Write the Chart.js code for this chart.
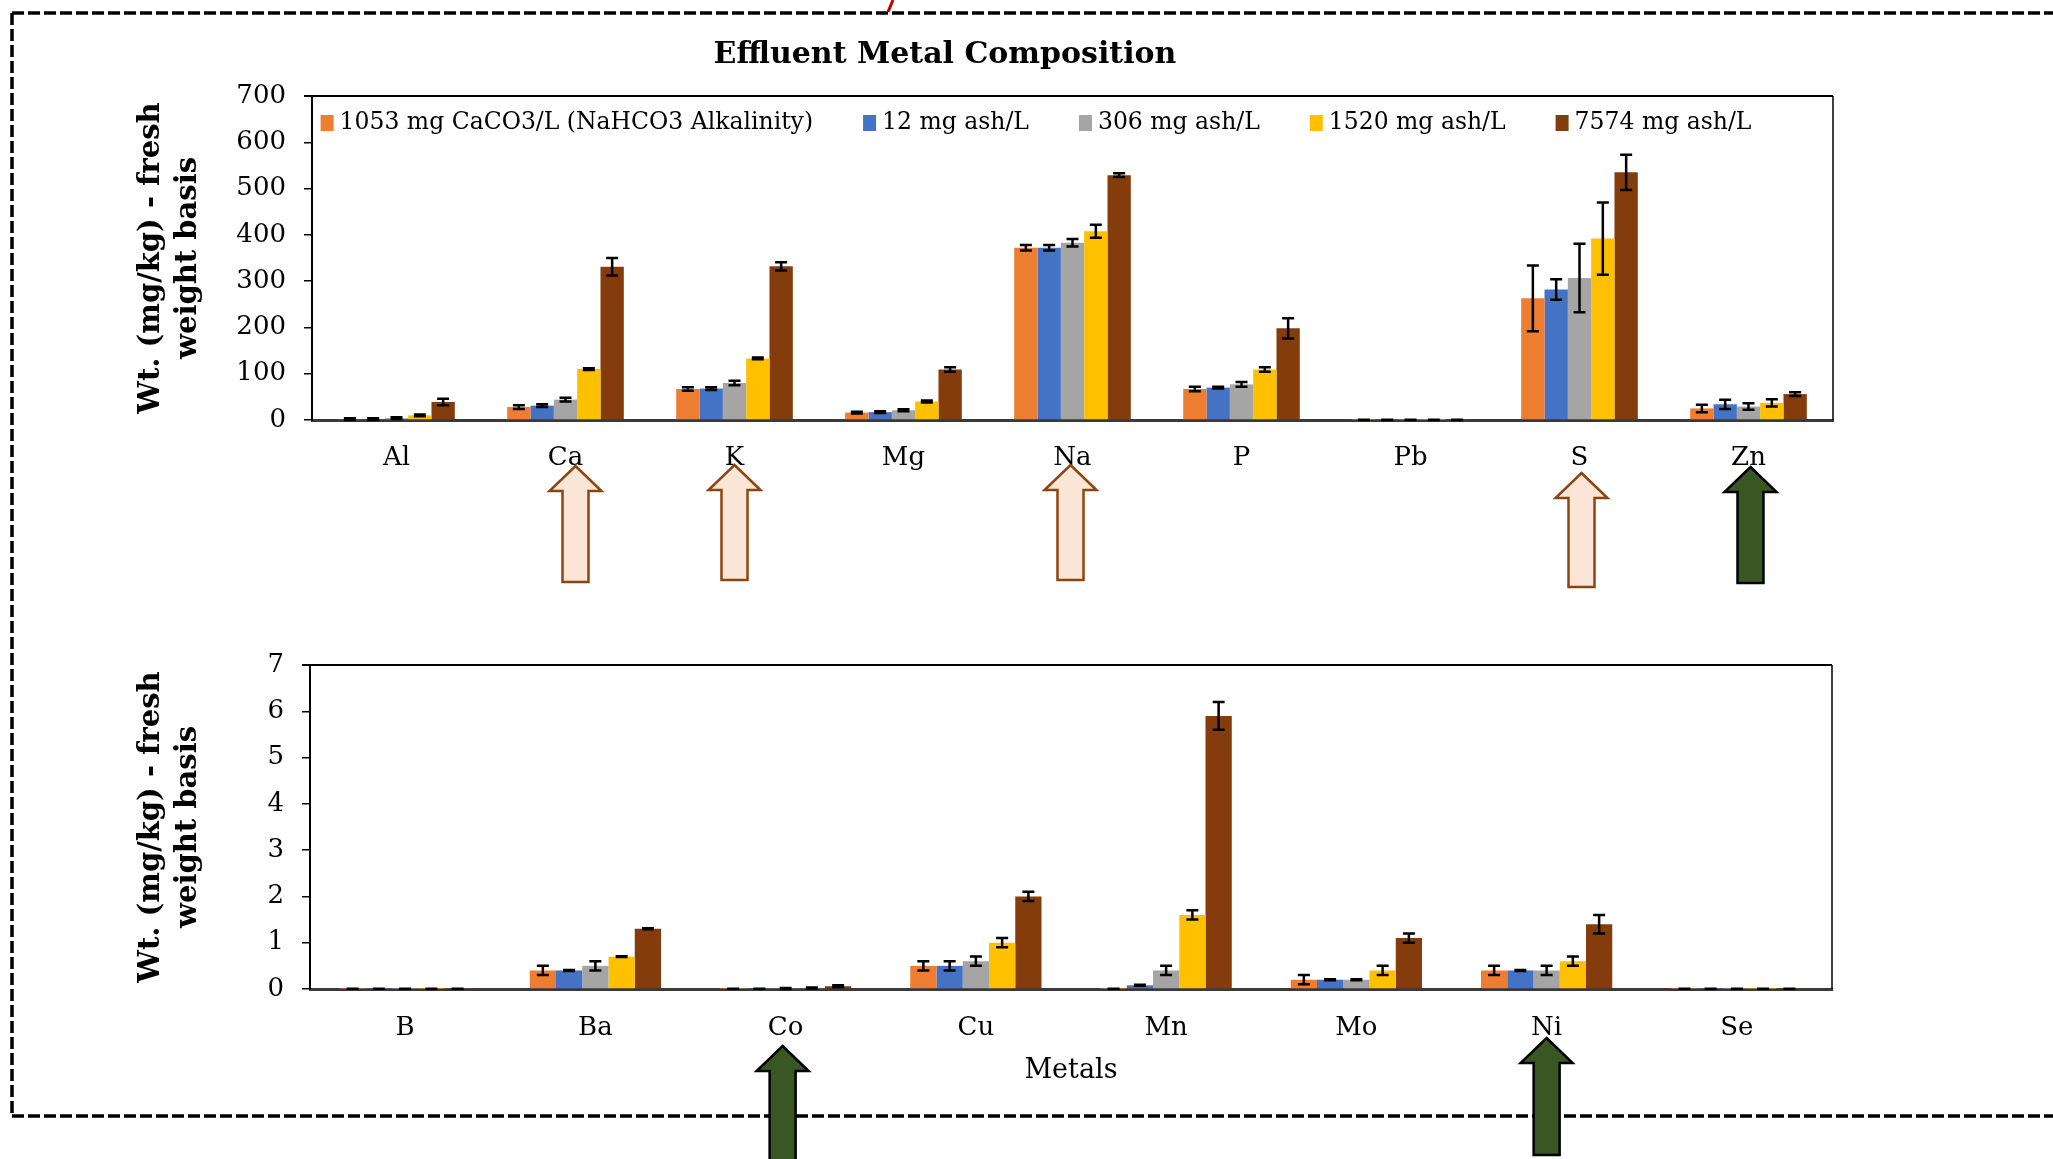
<!DOCTYPE html>
<html>
<head>
<meta charset="utf-8">
<title>Effluent Metal Composition</title>
<script src="https://cdn.jsdelivr.net/npm/chart.js@4.4.1/dist/chart.umd.min.js"></script>
<style>
  body { margin: 0; width: 2053px; height: 1159px; background: #fff; overflow: hidden; position: relative; font-family: "DejaVu Serif", serif; }
  #frame { position: absolute; left: 0; top: 0; z-index: 0; }
  #chartTitle { position: absolute; left: 0; width: 1890px; top: 38px; text-align: center; font: bold 30px "DejaVu Serif", serif; line-height: 30px; color: #000; z-index: 2; }
  .box { position: absolute; left: 0; z-index: 1; }
</style>
</head>
<body>
<svg id="frame" width="2053" height="1159">
  <g stroke="#000" stroke-width="3.5" stroke-dasharray="12 4" fill="none">
    <line x1="12" y1="13" x2="2053" y2="13"></line>
    <line x1="12" y1="13" x2="12" y2="1116"></line>
    <line x1="12" y1="1116" x2="2053" y2="1116"></line>
  </g>
  <line x1="893" y1="0" x2="888" y2="12" stroke="#c00000" stroke-width="3"></line>
</svg>
<div id="chartTitle">Effluent Metal Composition</div>
<div class="box" style="top:0"><canvas id="majorChart" width="1900" height="600"></canvas></div>
<div class="box" style="top:600px"><canvas id="traceChart" width="1900" height="559"></canvas></div>

<script>
// CATEGORIES
const majorMetals = ["Al", "Ca", "K", "Mg", "Na", "P", "Pb", "S", "Zn"];
const traceMetals = ["B", "Ba", "Co", "Cu", "Mn", "Mo", "Ni", "Se"];

// SERIES
const seriesLabels = ["1053 mg CaCO3/L (NaHCO3 Alkalinity)", "12 mg ash/L", "306 mg ash/L", "1520 mg ash/L", "7574 mg ash/L"];
const seriesColors = ["#ED7D31", "#4472C4", "#A5A5A5", "#FFC000", "#843C0C"];

// MAJOR METALS, mg/kg (means)
const majorAlk1053 = [2, 28, 67, 16, 372, 67, 0.5, 263, 25];
const majorAsh12   = [2, 31, 68, 17, 372, 70, 0.5, 282, 34];
const majorAsh306  = [4, 44, 80, 21, 383, 77, 0.5, 307, 29];
const majorAsh1520 = [10, 110, 133, 40, 408, 109, 0.5, 392, 37];
const majorAsh7574 = [39, 331, 332, 109, 529, 198, 0.5, 535, 56];

// MAJOR METALS, error (+/-)
const majorErrAlk1053 = [2, 4, 4, 2, 6, 5, 0.3, 71, 8];
const majorErrAsh12   = [2, 3, 3, 2, 6, 2, 0.3, 22, 10];
const majorErrAsh306  = [2, 4, 5, 2, 8, 5, 0.3, 74, 7];
const majorErrAsh1520 = [2, 2, 2, 2, 14, 5, 0.3, 78, 8];
const majorErrAsh7574 = [7, 19, 9, 5, 4, 22, 0.3, 38, 4];

// TRACE METALS, mg/kg (means)
const traceAlk1053 = [0.005, 0.4, 0.005, 0.5, 0.005, 0.2, 0.4, 0.005];
const traceAsh12   = [0.005, 0.4, 0.005, 0.5, 0.08, 0.2, 0.4, 0.005];
const traceAsh306  = [0.005, 0.5, 0.01, 0.6, 0.4, 0.2, 0.4, 0.005];
const traceAsh1520 = [0.005, 0.7, 0.02, 1.0, 1.6, 0.4, 0.6, 0.005];
const traceAsh7574 = [0.005, 1.3, 0.06, 2.0, 5.9, 1.1, 1.4, 0.005];

// TRACE METALS, error (+/-)
const traceErrAlk1053 = [0, 0.1, 0, 0.1, 0, 0.1, 0.1, 0];
const traceErrAsh12   = [0, 0.01, 0, 0.1, 0.01, 0.01, 0.01, 0];
const traceErrAsh306  = [0, 0.1, 0.01, 0.1, 0.1, 0.01, 0.1, 0];
const traceErrAsh1520 = [0, 0.01, 0.01, 0.1, 0.1, 0.1, 0.1, 0];
const traceErrAsh7574 = [0, 0.01, 0.02, 0.1, 0.3, 0.1, 0.2, 0];

// ARROW ANNOTATIONS (offsets below the plot area)
const majorArrows = [
  { cat: "Ca", dx: 10, tip: 46, end: 162, kind: "light" },
  { cat: "K", dx: 0, tip: 45, end: 160, kind: "light" },
  { cat: "Na", dx: -2, tip: 45, end: 160, kind: "light" },
  { cat: "S", dx: 2, tip: 53, end: 167, kind: "light" },
  { cat: "Zn", dx: 2, tip: 47, end: 163, kind: "dark" }
];
const traceArrows = [
  { cat: "Co", dx: -3, tip: 57, end: 190, kind: "dark" },
  { cat: "Ni", dx: 0, tip: 49, end: 166, kind: "dark" }
];

const serif = '"DejaVu Serif", serif';

// ERROR BARS
const errorBars = {
  id: "errorBars",
  afterDatasetsDraw(chart) {
    const ctx = chart.ctx;
    const y = chart.scales.y;
    ctx.save();
    ctx.strokeStyle = "#000";
    ctx.lineWidth = 2.5;
    chart.data.datasets.forEach((ds, i) => {
      const meta = chart.getDatasetMeta(i);
      meta.data.forEach((bar, j) => {
        const v = ds.data[j];
        const e = ds.errors[j];
        const top = y.getPixelForValue(v + e);
        const bot = y.getPixelForValue(Math.max(v - e, 0));
        ctx.beginPath();
        ctx.moveTo(bar.x, top); ctx.lineTo(bar.x, bot);
        ctx.moveTo(bar.x - 6, top); ctx.lineTo(bar.x + 6, top);
        ctx.moveTo(bar.x - 6, bot); ctx.lineTo(bar.x + 6, bot);
        ctx.stroke();
      });
    });
    ctx.restore();
  }
};

// LEGEND INSIDE THE PLOT
const insideLegend = {
  id: "insideLegend",
  afterDraw(chart, args, opts) {
    if (!opts.show) return;
    const ctx = chart.ctx;
    const area = chart.chartArea;
    ctx.save();
    ctx.font = "23.5px " + serif;
    const box = 13, gap = 6, spacing = 50;
    const items = chart.data.datasets.map(ds => ({ label: ds.label, color: ds.backgroundColor, w: ctx.measureText(ds.label).width }));
    const total = items.reduce((s, it) => s + box + gap + it.w, 0) + spacing * (items.length - 1);
    let x = opts.centerX - total / 2;
    const y = area.top + 27;
    ctx.textBaseline = "middle";
    items.forEach(it => {
      ctx.fillStyle = it.color;
      ctx.fillRect(x, y - 8, box, 16);
      ctx.fillStyle = "#000";
      ctx.fillText(it.label, x + box + gap, y);
      x += box + gap + it.w + spacing;
    });
    ctx.restore();
  }
};

// TOP + RIGHT EDGE OF PLOT FRAME
const plotFrame = {
  id: "plotFrame",
  afterDraw(chart) {
    const ctx = chart.ctx;
    const a = chart.chartArea;
    ctx.save();
    ctx.strokeStyle = "#000";
    ctx.lineWidth = 2;
    ctx.beginPath();
    ctx.moveTo(a.left - 8, a.top); ctx.lineTo(a.right, a.top);
    ctx.stroke();
    ctx.lineWidth = 1.5;
    ctx.beginPath();
    ctx.moveTo(a.right, a.top); ctx.lineTo(a.right, a.bottom);
    ctx.stroke();
    ctx.restore();
  }
};

// UP ARROWS UNDER SOME CATEGORIES
const arrowMarks = {
  id: "arrowMarks",
  afterDraw(chart, args, opts) {
    const ctx = chart.ctx;
    const xs = chart.scales.x;
    const base = chart.chartArea.bottom;
    (opts.list || []).forEach(a => {
      const x = xs.getPixelForValue(xs.getLabels().indexOf(a.cat)) + a.dx;
      const tipY = base + a.tip, endY = base + a.end;
      const headH = 25, headHalf = 26, shaftHalf = 13;
      ctx.save();
      ctx.beginPath();
      ctx.moveTo(x, tipY);
      ctx.lineTo(x + headHalf, tipY + headH);
      ctx.lineTo(x + shaftHalf, tipY + headH);
      ctx.lineTo(x + shaftHalf, endY);
      ctx.lineTo(x - shaftHalf, endY);
      ctx.lineTo(x - shaftHalf, tipY + headH);
      ctx.lineTo(x - headHalf, tipY + headH);
      ctx.closePath();
      ctx.fillStyle = a.kind === "dark" ? "#385723" : "#FBE5D6";
      ctx.strokeStyle = a.kind === "dark" ? "#000" : "#8B4513";
      ctx.lineWidth = 2.5;
      ctx.fill();
      ctx.stroke();
      ctx.restore();
    });
  }
};

function buildChart(canvasId, labels, sets, errs, o) {
  return new Chart(document.getElementById(canvasId), {
    type: "bar",
    data: {
      labels: labels,
      datasets: sets.map((d, i) => ({
        label: seriesLabels[i],
        data: d,
        errors: errs[i],
        backgroundColor: seriesColors[i],
        categoryPercentage: 0.69,
        barPercentage: 1.0
      }))
    },
    options: {
      responsive: false,
      animation: false,
      layout: { padding: o.padding },
      plugins: {
        legend: { display: false },
        tooltip: { enabled: false },
        insideLegend: { show: o.legend, centerX: 1036 },
        arrowMarks: { list: o.arrows }
      },
      scales: {
        x: {
          grid: { display: false, drawTicks: false },
          border: { display: true, color: "#3a3a3a", width: 3 },
          ticks: { color: "#000", padding: o.xPad, font: { family: serif, size: 26 } },
          title: o.xTitle ? { display: true, text: o.xTitle, color: "#000", font: { family: serif, size: 27 }, padding: { top: 0, bottom: 72 } } : { display: false },
          afterFit: s => { s.height = o.xHeight; }
        },
        y: {
          min: 0, max: o.yMax,
          ticks: { stepSize: o.yStep, color: "#000", padding: 18, font: { family: serif, size: 26 } },
          grid: { drawOnChartArea: false, drawTicks: true, tickLength: 8, color: "#000", lineWidth: 1.5 },
          border: { display: true, color: "#000", width: 2 },
          title: {
            display: true,
            text: ["Wt. (mg/kg) - fresh", "weight basis"],
            color: "#000",
            font: { family: serif, size: 29, weight: "bold", lineHeight: 1.28 },
            padding: { top: 23, bottom: 0 }
          },
          afterFit: s => { s.width = o.yWidth; }
        }
      }
    },
    plugins: [errorBars, insideLegend, plotFrame, arrowMarks]
  });
}

window.onload = function () {
  buildChart("majorChart", majorMetals,
    [majorAlk1053, majorAsh12, majorAsh306, majorAsh1520, majorAsh7574],
    [majorErrAlk1053, majorErrAsh12, majorErrAsh306, majorErrAsh1520, majorErrAsh7574],
    { padding: { top: 96, left: 110, right: 67, bottom: 0 }, yWidth: 202, xHeight: 180, xPad: 23,
      yMax: 700, yStep: 100, legend: true, arrows: majorArrows });

  buildChart("traceChart", traceMetals,
    [traceAlk1053, traceAsh12, traceAsh306, traceAsh1520, traceAsh7574],
    [traceErrAlk1053, traceErrAsh12, traceErrAsh306, traceErrAsh1520, traceErrAsh7574],
    { padding: { top: 65, left: 110, right: 68, bottom: 0 }, yWidth: 200, xHeight: 170, xPad: 24,
      yMax: 7, yStep: 1, legend: false, arrows: traceArrows, xTitle: "Metals" });
};
</script>
</body>
</html>
